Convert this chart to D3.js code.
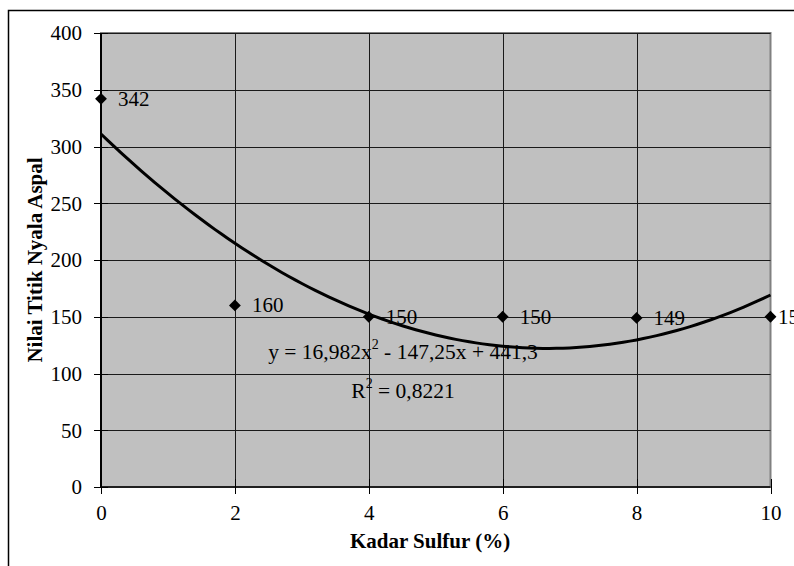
<!DOCTYPE html>
<meta charset="utf-8">
<style>
body { margin: 0; background: #fff; }
svg text { font-family: "Times New Roman", "Liberation Serif", Tinos, "DejaVu Serif", serif; fill: #000; }
.tick-label { font-size: 21px; }
.eq-label { font-size: 21.5px; }
.axis-title { font-size: 21px; font-weight: bold; }
.grid { stroke: #1a1a1a; stroke-width: 1; }
</style>
<svg id="chart" width="794" height="566" font-family="Liberation Serif"></svg>
<script src="https://cdnjs.cloudflare.com/ajax/libs/d3/7.8.5/d3.min.js"></script>
<script>

// data
var sulfur = [0, 2, 4, 6, 8, 10];
var flashPoint = [342, 160, 150, 150, 149, 150];
var xTicks = [0, 2, 4, 6, 8, 10];
var yTicks = [0, 50, 100, 150, 200, 250, 300, 350, 400];
// polynomial trendline as shown on the chart (x = point index 1..6)
var trendCoef = [441.3, -147.25, 16.982];
var equationText = ["y = 16,982x", "2", " - 147,25x + 441,3"];
var r2Text = ["R", "2", " = 0,8221"];

var svg = d3.select("#chart");

var x0 = 101, x1 = 770.5, y0 = 487, y1 = 33;

var x = d3.scaleLinear().domain([0, 10]).range([x0, x1]);
var y = d3.scaleLinear().domain([0, 400]).range([y0, y1]);
var idx = d3.scaleLinear().domain([1, sulfur.length]).range([x0, x1]);

// outer frame (extends past the picture on right and bottom)
svg.append("rect")
    .attr("x", 8.5)
    .attr("y", 10.5)
    .attr("width", 800)
    .attr("height", 600)
    .attr("fill", "#fff")
    .attr("stroke", "#000")
    .attr("stroke-width", 1.5);

// plot area
svg.append("rect")
    .attr("x", x0)
    .attr("y", y1)
    .attr("width", x1 - x0)
    .attr("height", y0 - y1)
    .attr("fill", "#c0c0c0")
    .attr("stroke", "#808080")
    .attr("stroke-width", 2);

// gridlines
svg.append("g")
    .selectAll("line")
    .data(yTicks.slice(1))
    .enter()
    .append("line")
    .attr("class", "grid")
    .attr("x1", x0)
    .attr("x2", x1)
    .attr("y1", function(d) { return Math.round(y(d)) + 0.5; })
    .attr("y2", function(d) { return Math.round(y(d)) + 0.5; });

svg.append("g")
    .selectAll("line")
    .data(xTicks.slice(1, -1))
    .enter()
    .append("line")
    .attr("class", "grid")
    .attr("x1", function(d) { return Math.round(x(d)) + 0.5; })
    .attr("x2", function(d) { return Math.round(x(d)) + 0.5; })
    .attr("y1", y1)
    .attr("y2", y0);

// axes
var yAxis = d3.axisLeft(y).tickValues(yTicks).tickSize(0).tickPadding(19);
var gy = svg.append("g")
    .attr("transform", "translate(" + x0 + ",0)")
    .call(yAxis)
    .attr("font-family", null)
    .attr("font-size", null);
gy.select(".domain").remove();
gy.selectAll("text").attr("class", "tick-label").attr("dy", "0.33em");

var xAxis = d3.axisBottom(x).tickValues(xTicks).tickSize(0).tickPadding(27);
var gx = svg.append("g")
    .attr("transform", "translate(0," + y0 + ")")
    .call(xAxis)
    .attr("font-family", null)
    .attr("font-size", null);
gx.select(".domain").remove();
gx.selectAll("text").attr("class", "tick-label").attr("dy", "0.3em");

// axis lines and cross ticks
svg.append("line")
    .attr("x1", x0).attr("x2", x0)
    .attr("y1", y1).attr("y2", y0)
    .attr("stroke", "#000").attr("stroke-width", 2);
svg.append("line")
    .attr("x1", x0).attr("x2", x1)
    .attr("y1", y0).attr("y2", y0)
    .attr("stroke", "#000").attr("stroke-width", 1.5);

svg.append("g")
    .selectAll("line")
    .data(yTicks)
    .enter()
    .append("line")
    .attr("x1", x0 - 7)
    .attr("x2", x0 + 7)
    .attr("y1", function(d) { return Math.round(y(d)) + 0.5; })
    .attr("y2", function(d) { return Math.round(y(d)) + 0.5; })
    .attr("stroke", "#000");

svg.append("g")
    .selectAll("line")
    .data(xTicks)
    .enter()
    .append("line")
    .attr("x1", function(d) { return Math.round(x(d)) + 0.5; })
    .attr("x2", function(d) { return Math.round(x(d)) + 0.5; })
    .attr("y1", y0 - 8)
    .attr("y2", y0 + 7)
    .attr("stroke", "#000");

// trendline
var trendPts = d3.range(1, sulfur.length + 0.001, 0.05).map(function(t) {
  return [t, trendCoef[0] + trendCoef[1] * t + trendCoef[2] * t * t];
});
svg.append("path")
    .datum(trendPts)
    .attr("fill", "none")
    .attr("stroke", "#000")
    .attr("stroke-width", 3)
    .attr("d", d3.line()
        .x(function(d) { return idx(d[0]); })
        .y(function(d) { return y(d[1]); }));

// markers
var diamond = d3.symbol().type(d3.symbolSquare).size(70);
svg.append("g")
    .selectAll("path")
    .data(sulfur)
    .enter()
    .append("path")
    .attr("d", diamond)
    .attr("fill", "#000")
    .attr("transform", function(d, i) {
      return "translate(" + x(d) + "," + y(flashPoint[i]) + ") rotate(45)";
    });

// data labels (last one is pushed back towards the chart edge, as in Excel)
svg.append("g")
    .selectAll("text")
    .data(sulfur)
    .enter()
    .append("text")
    .attr("class", "tick-label")
    .attr("x", function(d) { return Math.min(x(d) + 17, 778); })
    .attr("y", function(d, i) { return y(flashPoint[i]) + 7; })
    .text(function(d, i) { return flashPoint[i]; });

// equation
function supText(parts, cx, cy) {
  var t = svg.append("text")
      .attr("class", "eq-label")
      .attr("x", cx)
      .attr("y", cy)
      .attr("text-anchor", "middle");
  t.append("tspan").text(parts[0]);
  t.append("tspan").attr("dy", -10).attr("font-size", "14px").text(parts[1]);
  t.append("tspan").attr("dy", 10).text(parts[2]);
}
supText(equationText, 403, 359);
supText(r2Text, 403, 398);

// axis titles
svg.append("text")
    .attr("class", "axis-title")
    .attr("x", 430)
    .attr("y", 548)
    .attr("text-anchor", "middle")
    .text("Kadar Sulfur (%)");

svg.append("text")
    .attr("class", "axis-title")
    .attr("transform", "translate(42," + (y0 + y1) / 2 + ") rotate(-90)")
    .attr("text-anchor", "middle")
    .text("Nilai Titik Nyala Aspal");

</script>
